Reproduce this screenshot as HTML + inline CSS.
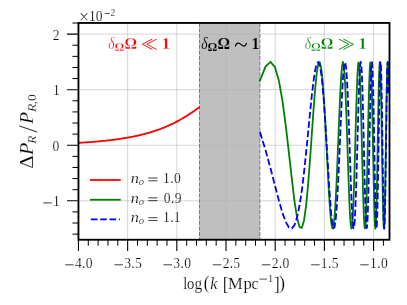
<!DOCTYPE html>
<html><head><meta charset="utf-8"><title>plot</title>
<style>html,body{margin:0;padding:0;background:#fff;}svg{display:block;will-change:transform;}text{font-family:"Liberation Serif",serif;}.t text{stroke:#fff;stroke-width:0.2px;}.t .b text{stroke-width:0.3px;}.t .bg text{stroke:#bfbfbf;stroke-width:0.12px;}</style></head><body>
<svg width="407" height="305" viewBox="0 0 407 305">
<rect width="407" height="305" fill="#fff"/>
<defs><clipPath id="ax"><rect x="78.45" y="22.95" width="311.05" height="216.79000000000002"/></clipPath></defs>
<rect x="199.5" y="22.95" width="60.39999999999998" height="216.79000000000002" fill="#bfbfbf"/>
<path d="M127.64 22.95V239.74M176.82 22.95V239.74M226.00 22.95V239.74M275.19 22.95V239.74M324.38 22.95V239.74M373.56 22.95V239.74M78.45 34.15H389.5M78.45 89.70H389.5M78.45 145.25H389.5M78.45 200.80H389.5" stroke="#b0b0b0" stroke-opacity="0.66" stroke-width="0.8" fill="none"/>
<path d="M199.5 22.95V239.74M259.9 22.95V239.74" stroke="#7a7a7a" stroke-width="1.0" stroke-dasharray="4.1 1.4" fill="none"/>
<g clip-path="url(#ax)" fill="none" stroke-width="1.8" stroke-linejoin="round">
<path d="M78.45 142.83L79.98 142.75L81.50 142.65L83.03 142.56L84.56 142.46L86.09 142.36L87.61 142.26L89.14 142.15L90.67 142.03L92.20 141.92L93.72 141.80L95.25 141.67L96.78 141.54L98.31 141.41L99.83 141.27L101.36 141.12L102.89 140.97L104.41 140.81L105.94 140.65L107.47 140.49L109.00 140.31L110.52 140.13L112.05 139.95L113.58 139.76L115.11 139.56L116.63 139.35L118.16 139.13L119.69 138.91L121.22 138.68L122.74 138.44L124.27 138.20L125.80 137.94L127.33 137.68L128.85 137.40L130.38 137.12L131.91 136.82L133.43 136.52L134.96 136.20L136.49 135.87L138.02 135.53L139.54 135.18L141.07 134.82L142.60 134.44L144.13 134.05L145.65 133.65L147.18 133.23L148.71 132.79L150.24 132.35L151.76 131.88L153.29 131.40L154.82 130.90L156.34 130.39L157.87 129.86L159.40 129.31L160.93 128.74L162.45 128.15L163.98 127.54L165.51 126.92L167.04 126.27L168.56 125.60L170.09 124.90L171.62 124.19L173.15 123.45L174.67 122.69L176.20 121.91L177.73 121.10L179.26 120.27L180.78 119.41L182.31 118.53L183.84 117.63L185.36 116.70L186.89 115.75L188.42 114.78L189.95 113.78L191.47 112.76L193.00 111.72L194.53 110.66L196.06 109.59L197.58 108.50L199.11 107.39" stroke="#ff0000" stroke-linecap="square"/>
<path d="M259.95 80.64L265.51 66.61L270.43 61.93L274.84 66.81L278.83 80.43L282.49 101.07L285.85 126.31L288.97 153.39L291.88 179.44L294.60 201.77L297.16 218.19L299.58 227.14L301.86 227.86L304.03 220.39L306.10 205.60L308.07 185.02L309.95 160.70L311.75 135.01L313.48 110.39L315.14 89.13L316.74 73.18L318.29 63.95L319.78 62.21L321.21 68.04L322.61 80.85L323.95 99.41L325.26 122.01L326.53 146.61L327.76 171.02L328.96 193.10L330.12 210.94L331.25 223.03L332.36 228.36L333.43 226.53L334.48 217.75L335.51 202.82L336.51 183.04L337.49 160.12L338.44 136.00L339.38 112.70L340.29 92.17L341.19 76.07L342.07 65.72L342.93 61.94L343.77 64.98L344.59 74.56L345.40 89.87L346.20 109.64L346.98 132.24L347.75 155.85L348.50 178.57L349.24 198.60L349.97 214.34L350.69 224.58L351.39 228.54L352.08 225.93L352.76 216.99L353.43 202.46L354.09 183.48L354.75 161.55L355.39 138.40L356.02 115.81L356.64 95.52L357.25 79.08L357.86 67.73L358.45 62.33L359.04 63.25L359.62 70.40L360.19 83.22L360.76 100.71L361.31 121.54L361.86 144.13L362.41 166.77L362.94 187.77L363.47 205.57L363.99 218.86L364.51 226.67L365.02 228.43L365.53 224.04L366.02 213.85L366.52 198.62L367.00 179.49L367.49 157.87L367.96 135.35L368.43 113.58L368.90 94.13L369.36 78.42L369.82 67.57L370.27 62.35L370.71 63.11L371.15 69.78L371.59 81.88L372.02 98.50L372.45 118.45L372.88 140.30L373.30 162.48L373.71 183.41L374.13 201.62L374.53 215.81L374.94 224.99L375.34 228.54L375.73 226.22L376.13 218.20L376.52 205.07L376.90 187.75L377.29 167.48L377.66 145.67L378.04 123.85L378.41 103.54L378.78 86.15L379.15 72.87L379.51 64.61L379.87 61.93L380.23 65.00L380.58 73.60L380.93 87.12L381.28 104.62L381.63 124.90L381.97 146.54L382.31 168.09L382.65 188.06L382.98 205.10L383.31 218.05L383.64 226.05L383.97 228.57L384.29 225.44L384.62 216.89L384.94 203.52L385.25 186.23L385.57 166.19L385.88 144.76L386.19 123.37L386.50 103.47L386.80 86.38L387.11 73.23L387.41 64.90L387.71 61.93L388.01 64.50L388.30 72.44L388.59 85.20" stroke="#008000" stroke-linecap="square"/>
<path d="M259.95 132.06L265.51 150.04L270.43 168.01L274.84 185.06L278.83 200.31L282.49 212.91L285.85 222.13L288.97 227.42L291.88 228.40L294.60 224.93L297.16 217.11L299.58 205.30L301.86 190.10L304.03 172.29L306.10 152.87L308.07 132.92L309.95 113.60L311.75 96.03L313.48 81.29L315.14 70.28L316.74 63.69L318.29 61.99L319.78 65.32L321.21 73.53L322.61 86.18L323.95 102.50L325.26 121.54L326.53 142.11L327.76 162.94L328.96 182.71L330.12 200.15L331.25 214.13L332.36 223.71L333.43 228.25L334.48 227.41L335.51 221.21L336.51 210.01L337.49 194.53L338.44 175.75L339.38 154.90L340.29 133.36L341.19 112.58L342.07 93.95L342.93 78.75L343.77 68.04L344.59 62.56L345.40 62.73L346.20 68.56L346.98 79.68L347.75 95.35L348.50 114.52L349.24 135.86L349.97 157.88L350.69 179.06L351.39 197.90L352.08 213.05L352.76 223.43L353.43 228.27L354.09 227.20L354.75 220.28L355.39 207.97L356.02 191.13L356.64 170.96L357.25 148.91L357.86 126.56L358.45 105.53L359.04 87.38L359.62 73.43L360.19 64.73L360.76 61.93L361.31 65.27L361.86 74.52L362.41 89.03L362.94 107.73L363.47 129.24L363.99 151.97L364.51 174.23L365.02 194.34L365.53 210.78L366.02 222.31L366.52 228.03L367.00 227.49L367.49 220.71L367.96 208.19L368.43 190.86L368.90 170.02L369.36 147.27L369.82 124.34L370.27 103.00L370.71 84.88L371.15 71.41L371.59 63.63L372.02 62.17L372.45 67.16L372.88 78.23L373.30 94.53L373.71 114.82L374.13 137.50L374.53 160.81L374.94 182.92L375.34 202.09L375.73 216.79L376.13 225.85L376.52 228.55L376.90 224.64L377.29 214.42L377.66 198.69L378.04 178.69L378.41 156.00L378.78 132.43L379.15 109.87L379.51 90.13L379.87 74.81L380.23 65.14L380.58 61.93L380.93 65.44L381.28 75.42L381.63 91.07L381.97 111.12L382.31 133.97L382.65 157.75L382.98 180.54L383.31 200.45L383.64 215.87L383.97 225.51L384.29 228.57L384.62 224.78L384.94 214.44L385.25 198.40L385.57 177.95L385.88 154.79L386.19 130.82L386.50 108.02L386.80 88.31L387.11 73.31L387.41 64.30L387.71 62.03L388.01 66.71L388.30 77.96L388.59 94.85" stroke="#0000ff" stroke-dasharray="6.6 2.75"/>
</g>
<path d="M90.85 180.0H119.85" stroke="#ff0000" stroke-width="1.8" stroke-linecap="square" fill="none"/>
<path d="M90.85 199.75H119.85" stroke="#008000" stroke-width="1.8" stroke-linecap="square" fill="none"/>
<path d="M90.85 219.3H119.85" stroke="#0000ff" stroke-width="1.8" stroke-dasharray="6.6 2.75" fill="none"/>
<rect x="78.45" y="22.95" width="311.05" height="216.79000000000002" fill="none" stroke="#000" stroke-width="1.85"/>
<path d="M78.45 239.74v11.2M127.64 239.74v11.2M176.82 239.74v11.2M226.00 239.74v11.2M275.19 239.74v11.2M324.38 239.74v11.2M373.56 239.74v11.2M78.45 200.80h-11.4M78.45 145.25h-11.4M78.45 89.70h-11.4M78.45 34.15h-11.4" stroke="#000" stroke-width="1.1" fill="none"/>
<path d="M88.29 239.74v6M98.12 239.74v6M107.96 239.74v6M117.80 239.74v6M137.47 239.74v6M147.31 239.74v6M157.15 239.74v6M166.98 239.74v6M186.66 239.74v6M196.49 239.74v6M206.33 239.74v6M216.17 239.74v6M235.84 239.74v6M245.68 239.74v6M255.52 239.74v6M265.35 239.74v6M285.03 239.74v6M294.86 239.74v6M304.70 239.74v6M314.54 239.74v6M334.21 239.74v6M344.05 239.74v6M353.89 239.74v6M363.72 239.74v6M383.40 239.74v6M78.45 234.13h-6M78.45 223.02h-6M78.45 211.91h-6M78.45 189.69h-6M78.45 178.58h-6M78.45 167.47h-6M78.45 156.36h-6M78.45 134.14h-6M78.45 123.03h-6M78.45 111.92h-6M78.45 100.81h-6M78.45 78.59h-6M78.45 67.48h-6M78.45 56.37h-6M78.45 45.26h-6M78.45 23.04h-6" stroke="#000" stroke-width="1.0" fill="none"/>
<g class="t">
<path d="M65.12 264.80H73.67" stroke="#000" stroke-width="0.75" fill="none"/>
<text x="74.92" y="268.30" font-size="13.6" fill="#000">4</text>
<text x="82.10" y="268.30" font-size="13.6" fill="#000">.</text>
<text x="85.83" y="268.30" font-size="13.6" fill="#000">0</text>
<path d="M114.38 264.80H122.94" stroke="#000" stroke-width="0.75" fill="none"/>
<text x="124.14" y="268.30" font-size="13.6" fill="#000">3</text>
<text x="131.36" y="268.30" font-size="13.6" fill="#000">.</text>
<text x="134.97" y="268.30" font-size="13.6" fill="#000">5</text>
<path d="M163.49 264.80H172.04" stroke="#000" stroke-width="0.75" fill="none"/>
<text x="173.25" y="268.30" font-size="13.6" fill="#000">3</text>
<text x="180.46" y="268.30" font-size="13.6" fill="#000">.</text>
<text x="184.20" y="268.30" font-size="13.6" fill="#000">0</text>
<path d="M212.75 264.80H221.31" stroke="#000" stroke-width="0.75" fill="none"/>
<text x="222.65" y="268.30" font-size="13.6" fill="#000">2</text>
<text x="229.73" y="268.30" font-size="13.6" fill="#000">.</text>
<text x="233.34" y="268.30" font-size="13.6" fill="#000">5</text>
<path d="M261.86 264.80H270.41" stroke="#000" stroke-width="0.75" fill="none"/>
<text x="271.76" y="268.30" font-size="13.6" fill="#000">2</text>
<text x="278.83" y="268.30" font-size="13.6" fill="#000">.</text>
<text x="282.57" y="268.30" font-size="13.6" fill="#000">0</text>
<path d="M311.12 264.80H319.68" stroke="#000" stroke-width="0.75" fill="none"/>
<text x="320.84" y="268.30" font-size="13.6" fill="#000">1</text>
<text x="328.10" y="268.30" font-size="13.6" fill="#000">.</text>
<text x="331.71" y="268.30" font-size="13.6" fill="#000">5</text>
<path d="M360.23 264.80H368.78" stroke="#000" stroke-width="0.75" fill="none"/>
<text x="369.95" y="268.30" font-size="13.6" fill="#000">1</text>
<text x="377.20" y="268.30" font-size="13.6" fill="#000">.</text>
<text x="380.94" y="268.30" font-size="13.6" fill="#000">0</text>
<text x="52.78" y="39.75" font-size="13.6" fill="#000">2</text>
<text x="52.98" y="95.30" font-size="13.6" fill="#000">1</text>
<text x="52.55" y="150.85" font-size="13.6" fill="#000">0</text>
<path d="M43.26 202.90H51.82" stroke="#000" stroke-width="0.75" fill="none"/>
<text x="52.98" y="206.40" font-size="13.6" fill="#000">1</text>
<text transform="translate(78.97 23.20) scale(0.958 1)" font-size="18.6" fill="#000">×</text>
<text x="89.11" y="20.60" font-size="13.6" fill="#000">1</text>
<text x="95.70" y="20.60" font-size="13.6" fill="#000">0</text>
<path d="M104.67 13.50H109.83" stroke="#000" stroke-width="0.65" fill="none"/>
<text x="110.60" y="15.80" font-size="9.6" fill="#000">2</text>
<text transform="translate(183.20 288.55) scale(0.880 1)" font-size="16.6" fill="#000">l</text>
<text transform="translate(187.05 288.55) scale(0.880 1)" font-size="16.6" fill="#000">o</text>
<text transform="translate(194.41 288.55) scale(0.928 1)" font-size="16.6" fill="#000">g</text>
<text transform="translate(203.85 289.10) scale(0.880 1)" font-size="18.8" fill="#000">(</text>
<text transform="translate(210.21 288.55) scale(0.951 1)" font-size="17.0" font-style="italic" fill="#000">k</text>
<text transform="translate(222.77 290.00) scale(0.880 1)" font-size="19.5" fill="#000">[</text>
<text x="228.10" y="288.55" font-size="16.6" fill="#000">M</text>
<text x="243.51" y="288.55" font-size="16.6" fill="#000">p</text>
<text transform="translate(251.47 288.55) scale(0.956 1)" font-size="16.6" fill="#000">c</text>
<text transform="translate(273.97 290.00) scale(0.880 1)" font-size="19.5" fill="#000">]</text>
<text transform="translate(279.09 289.10) scale(0.963 1)" font-size="18.8" fill="#000">)</text>
<path d="M259.48 279.10H267.02" stroke="#000" stroke-width="0.7" fill="none"/>
<text x="267.87" y="282.20" font-size="11.3" fill="#000">1</text>
<g transform="translate(33.0 168.05) rotate(-90)">
<text transform="translate(-0.61 0.00) scale(1.074 1)" font-size="19.2" fill="#000">Δ</text>
<text transform="translate(13.13 0.00) scale(1.045 1)" font-size="19.2" font-style="italic" fill="#000">P</text>
<text transform="translate(24.40 3.30) scale(1.096 1)" font-size="12.1" font-style="italic" fill="#000">R</text>
<text x="44.23" y="0.00" font-size="19.2" font-style="italic" fill="#000">P</text>
<text transform="translate(56.16 3.30) scale(1.120 1)" font-size="12.1" font-style="italic" fill="#000">R</text>
<text transform="translate(64.05 3.30) scale(0.880 1)" font-size="12.1" fill="#000">,</text>
<text transform="translate(67.01 3.30) scale(1.120 1)" font-size="12.3" fill="#000">0</text>
<path d="M36.0 4.2L42.1 -13.6" stroke="#000" stroke-width="0.85" fill="none"/>
</g>
<g class="b">
<text transform="translate(108.30 48.90) scale(0.800 1)" font-size="17.0" font-style="italic" fill="#ff0000">δ</text>
<text x="114.43" y="51.10" font-size="12.2" font-weight="bold" fill="#ff0000">Ω</text>
<text transform="translate(124.41 48.90) scale(0.923 1)" font-size="17.0" font-weight="bold" fill="#ff0000">Ω</text>
<path d="M152.30 39.05L142.30 44.25L152.30 49.45" stroke="#ff0000" stroke-width="0.9" fill="none" stroke-linejoin="miter"/>
<path d="M156.70 39.05L146.80 44.25L156.70 49.45" stroke="#ff0000" stroke-width="0.9" fill="none" stroke-linejoin="miter"/>
<text transform="translate(161.57 48.80) scale(1.109 1)" font-size="15.8" font-weight="bold" fill="#ff0000">1</text>
<text transform="translate(304.75 48.90) scale(0.800 1)" font-size="17.0" font-style="italic" fill="#008000">δ</text>
<text x="310.88" y="51.10" font-size="12.2" font-weight="bold" fill="#008000">Ω</text>
<text transform="translate(320.86 48.90) scale(0.923 1)" font-size="17.0" font-weight="bold" fill="#008000">Ω</text>
<path d="M343.40 39.10L353.40 44.30L343.40 49.50" stroke="#008000" stroke-width="0.9" fill="none" stroke-linejoin="miter"/>
<path d="M339.00 39.10L348.80 44.30L339.00 49.50" stroke="#008000" stroke-width="0.9" fill="none" stroke-linejoin="miter"/>
<text transform="translate(358.29 48.80) scale(1.092 1)" font-size="15.8" font-weight="bold" fill="#008000">1</text>
</g><g class="bg">
<text transform="translate(201.35 48.90) scale(0.800 1)" font-size="17.0" font-style="italic" fill="#000">δ</text>
<text x="207.48" y="51.10" font-size="12.2" font-weight="bold" fill="#000">Ω</text>
<text transform="translate(217.46 48.90) scale(0.923 1)" font-size="17.0" font-weight="bold" fill="#000">Ω</text>
<path d="M235.4 46.0C236.4 42.4 238.9 42.3 240.9 44.4C243 46.6 245.4 46.9 246.4 43.3" stroke="#000" stroke-width="1.25" fill="none" stroke-linecap="round"/>
<text x="251.60" y="48.70" font-size="15.8" font-weight="bold" fill="#000">1</text>
</g>
<text transform="translate(130.81 182.75) scale(1.120 1)" font-size="14.6" font-style="italic" fill="#000">n</text>
<text transform="translate(138.86 184.65) scale(1.056 1)" font-size="10.0" font-style="italic" fill="#000">o</text>
<path d="M148.3 178.00H157.5M148.3 180.80H157.5" stroke="#000" stroke-width="0.75" fill="none"/>
<text x="162.92" y="182.75" font-size="13.6" fill="#000">1</text>
<text x="170.18" y="182.75" font-size="13.6" fill="#000">.</text>
<text x="173.91" y="182.75" font-size="13.6" fill="#000">0</text>
<text transform="translate(130.81 202.62) scale(1.120 1)" font-size="14.6" font-style="italic" fill="#000">n</text>
<text transform="translate(138.86 204.52) scale(1.056 1)" font-size="10.0" font-style="italic" fill="#000">o</text>
<path d="M148.3 197.87H157.5M148.3 200.67H157.5" stroke="#000" stroke-width="0.75" fill="none"/>
<text x="163.72" y="202.62" font-size="13.6" fill="#000">0</text>
<text x="170.88" y="202.62" font-size="13.6" fill="#000">.</text>
<text x="174.67" y="202.62" font-size="13.6" fill="#000">9</text>
<text transform="translate(130.81 222.49) scale(1.120 1)" font-size="14.6" font-style="italic" fill="#000">n</text>
<text transform="translate(138.86 224.39) scale(1.056 1)" font-size="10.0" font-style="italic" fill="#000">o</text>
<path d="M148.3 217.74H157.5M148.3 220.54H157.5" stroke="#000" stroke-width="0.75" fill="none"/>
<text x="162.92" y="222.49" font-size="13.6" fill="#000">1</text>
<text x="170.18" y="222.49" font-size="13.6" fill="#000">.</text>
<text x="173.81" y="222.49" font-size="13.6" fill="#000">1</text>
</g>
</svg></body></html>
